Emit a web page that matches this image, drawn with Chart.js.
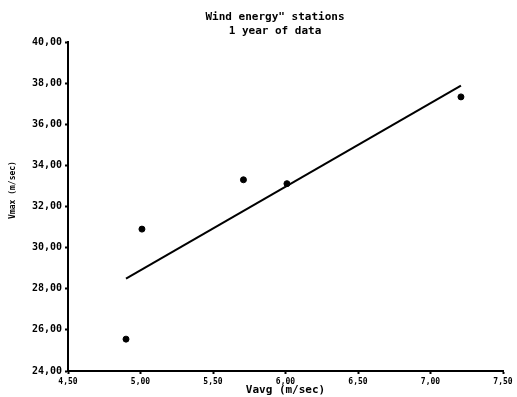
<!DOCTYPE html>
<html>
<head>
<meta charset="utf-8">
<script src="https://cdn.jsdelivr.net/npm/chart.js@4/dist/chart.umd.min.js"></script>
<style>
  html, body { margin: 0; padding: 0; background: #fff; }
  #wrap { width: 517px; height: 397px; }
</style>
</head>
<body>
<div id="wrap"><canvas id="c" width="517" height="397"></canvas></div>
<script>
// Station measurements: average wind speed vs. maximum wind speed
const vAvg = [4.90, 5.01, 5.71, 6.01, 7.21];
const vMax = [25.55, 30.90, 33.30, 33.11, 37.33];

// Fitted straight line, endpoints
const fitX = [4.90, 7.21];
const fitY = [28.49, 37.88];

const titleLines = ['Wind energy" stations', '1 year of data'];
const xTitle = 'Vavg (m/sec)';
const yTitle = 'Vmax (m/sec)';

const MONO = '"DejaVu Sans Mono", "Liberation Mono", monospace';
const fmt = v => v.toFixed(2).replace('.', ',');

// Heading above the plot and the vertical axis caption
const captionPlugin = {
  id: 'captions',
  afterDraw(chart) {
    const ctx = chart.ctx;
    ctx.save();
    ctx.fillStyle = '#000';
    ctx.textAlign = 'center';
    ctx.textBaseline = 'middle';
    ctx.font = 'bold 11px ' + MONO;
    ctx.fillText(titleLines[0], 275, 17);
    ctx.fillText(titleLines[1], 275, 31);
    ctx.translate(13, 190);
    ctx.rotate(-Math.PI / 2);
    ctx.font = 'bold 8px ' + MONO;
    ctx.fillText(yTitle, 0, 0);
    ctx.restore();
  }
};

new Chart(document.getElementById('c'), {
  type: 'scatter',
  data: {
    datasets: [
      {
        label: 'stations',
        data: vAvg.map((x, i) => ({ x, y: vMax[i] })),
        backgroundColor: '#000',
        borderColor: '#000',
        pointRadius: 3,
        pointHoverRadius: 3
      },
      {
        label: 'fit',
        type: 'line',
        data: fitX.map((x, i) => ({ x, y: fitY[i] })),
        borderColor: '#000',
        borderWidth: 2,
        pointRadius: 0,
        fill: false,
        tension: 0
      }
    ]
  },
  options: {
    responsive: false,
    animation: false,
    devicePixelRatio: 1,
    layout: { padding: { top: 42, right: 14, left: 0, bottom: 0 } },
    plugins: {
      legend: { display: false },
      tooltip: { enabled: false },
      title: { display: false }
    },
    scales: {
      x: {
        type: 'linear',
        min: 4.5,
        max: 7.5,
        afterFit(s) { s.height = 26; },
        border: { color: '#000', width: 2 },
        grid: { drawOnChartArea: false, color: '#000', tickLength: 3, tickWidth: 2 },
        ticks: {
          stepSize: 0.5,
          color: '#000',
          padding: 3,
          font: { family: MONO, size: 8, weight: 'bold' },
          callback: v => fmt(v)
        },
        title: {
          display: true,
          text: xTitle,
          color: '#000',
          font: { family: MONO, size: 11, weight: 'bold' },
          padding: { top: 0, bottom: 0 }
        }
      },
      y: {
        type: 'linear',
        min: 24,
        max: 40,
        afterFit(s) { s.width = 68; },
        border: { color: '#000', width: 2 },
        grid: { drawOnChartArea: false, color: '#000', tickLength: 3, tickWidth: 2 },
        ticks: {
          stepSize: 2,
          color: '#000',
          padding: 3,
          font: { family: MONO, size: 10, weight: 'bold' },
          callback: v => fmt(v)
        }
      }
    }
  },
  plugins: [captionPlugin]
});
</script>
</body>
</html>
